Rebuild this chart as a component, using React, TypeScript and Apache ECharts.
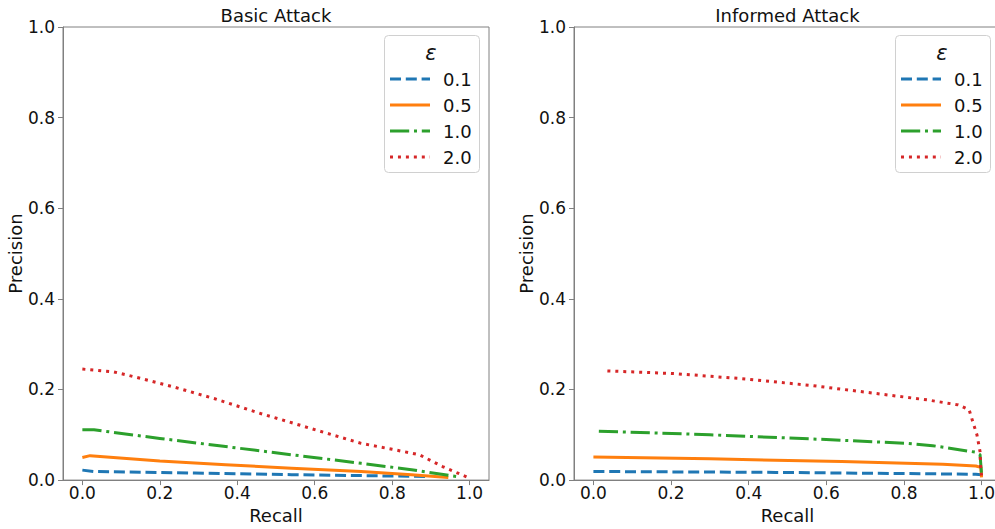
import React, { useEffect, useRef } from "react";
import * as echarts from "echarts";

// ---- Data ----
const titles = ["Basic Attack", "Informed Attack"];
const epsilonLabels = ["0.1", "0.5", "1.0", "2.0"];
const xTicks = [0, 0.2, 0.4, 0.6, 0.8, 1.0];
const yTicks = [0, 0.2, 0.4, 0.6, 0.8, 1.0];

// Basic attack
const basicRecall01 = [0.0, 0.03, 0.29, 0.54, 0.8, 0.89];
const basicPrecision01 = [0.022, 0.019, 0.0155, 0.012, 0.009, 0.008];
const basicRecall05 = [0.0, 0.02, 0.2, 0.37, 0.54, 0.72, 0.85, 0.945];
const basicPrecision05 = [0.05, 0.054, 0.042, 0.034, 0.026, 0.019, 0.012, 0.006];
const basicRecall10 = [0.0, 0.03, 0.2, 0.37, 0.54, 0.72, 0.85, 0.965];
const basicPrecision10 = [0.111, 0.111, 0.092, 0.074, 0.056, 0.037, 0.023, 0.008];
const basicRecall20 = [0.0, 0.05, 0.08, 0.12, 0.23, 0.34, 0.46, 0.59, 0.72, 0.8, 0.87, 0.93, 0.995];
const basicPrecision20 = [0.245, 0.241, 0.239, 0.231, 0.207, 0.18, 0.147, 0.114, 0.081, 0.068, 0.056, 0.03, 0.006];

// Informed attack
const informedRecall01 = [0.0, 0.47, 0.985, 0.999, 1.0];
const informedPrecision01 = [0.019, 0.017, 0.013, 0.012, 0.008];
const informedRecall05 = [0.0, 0.3, 0.64, 0.9, 0.985, 0.998, 1.0];
const informedPrecision05 = [0.051, 0.047, 0.041, 0.035, 0.031, 0.028, 0.006];
const informedRecall10 = [0.014, 0.3, 0.56, 0.81, 0.874, 0.985, 0.996, 1.0];
const informedPrecision10 = [0.108, 0.1, 0.091, 0.081, 0.076, 0.0615, 0.056, 0.012];
const informedRecall20 = [0.036, 0.21, 0.38, 0.56, 0.73, 0.86, 0.94, 0.968, 0.974, 0.988, 0.996, 0.998, 1.0];
const informedPrecision20 = [0.241, 0.235, 0.224, 0.209, 0.191, 0.177, 0.166, 0.155, 0.138, 0.1, 0.063, 0.023, 0.01];

const colors = ["#1f77b4", "#ff7f0e", "#2ca02c", "#d62728"];
const dashes: (number[] | "solid")[] = [[11, 4.8], "solid", [19.2, 4.8, 3, 4.8], [3, 4.95]];

const zip = (xs: number[], ys: number[]) => xs.map((x, i) => [x, ys[i]]);

const FONT = "DejaVu Sans, sans-serif";
const TXT = "#111111";
const FRAME = "#808080";

export default function App() {
  const ref = useRef<HTMLDivElement>(null);

  useEffect(() => {
    if (!ref.current) return;
    const chart = echarts.init(ref.current, undefined, { renderer: "svg" });

    const panels = [
      [
        zip(basicRecall01, basicPrecision01),
        zip(basicRecall05, basicPrecision05),
        zip(basicRecall10, basicPrecision10),
        zip(basicRecall20, basicPrecision20),
      ],
      [
        zip(informedRecall01, informedPrecision01),
        zip(informedRecall05, informedPrecision05),
        zip(informedRecall10, informedPrecision10),
        zip(informedRecall20, informedPrecision20),
      ],
    ];

    const gridLefts = [63, 574];
    const gridWidths = [426, 427];
    const offsets = [0, 511];

    const series: any[] = [];
    panels.forEach((panel, p) => {
      panel.forEach((data, i) => {
        series.push({
          type: "line",
          name: epsilonLabels[i],
          xAxisIndex: p,
          yAxisIndex: p,
          data,
          showSymbol: false,
          symbol: "none",
          z: 2 + i,
          lineStyle: {
            color: colors[i],
            width: 3,
            type: dashes[i],
            cap: "butt",
            join: "round",
          },
        });
      });
    });

    const graphic: any[] = [];
    [0, 1].forEach((p) => {
      const o = offsets[p];
      graphic.push({
        type: "text",
        x: gridLefts[p] + gridWidths[p] / 2,
        y: 15,
        style: {
          text: titles[p],
          fill: TXT,
          font: `18px ${FONT}`,
          align: "center",
          verticalAlign: "middle",
        },
      });
      graphic.push({
        type: "rect",
        shape: { x: 384.5 + o, y: 35.5, width: 95, height: 137, r: 4 },
        style: { fill: "rgba(255,255,255,0.8)", stroke: "#d0d0d0", lineWidth: 1 },
        z: 10,
      });
      graphic.push({
        type: "text",
        x: 431 + o,
        y: 53,
        z: 11,
        style: {
          text: "ε",
          fill: TXT,
          font: `italic 21px ${FONT}`,
          align: "center",
          verticalAlign: "middle",
        },
      });
      const ys = [79, 105, 131, 157];
      epsilonLabels.forEach((lab, i) => {
        const st: any = { stroke: colors[i], lineWidth: 3, lineCap: "butt" };
        if (dashes[i] !== "solid") st.lineDash = dashes[i];
        graphic.push({
          type: "line",
          z: 11,
          shape: { x1: 390 + o, y1: ys[i], x2: 430 + o, y2: ys[i] },
          style: st,
        });
        graphic.push({
          type: "text",
          x: 443 + o,
          y: ys[i],
          z: 11,
          style: {
            text: lab,
            fill: TXT,
            font: `18px ${FONT}`,
            align: "left",
            verticalAlign: "middle",
          },
        });
      });
    });

    const option: any = {
      animation: false,
      backgroundColor: "#ffffff",
      grid: [0, 1].map((p) => ({
        left: gridLefts[p],
        top: 27,
        width: gridWidths[p],
        height: 455,
        show: true,
        borderColor: FRAME,
        borderWidth: 1,
        backgroundColor: "transparent",
        containLabel: false,
      })),
      xAxis: [0, 1].map((p) => ({
        type: "value",
        gridIndex: p,
        min: -0.05,
        max: 1.05,
        name: "Recall",
        nameLocation: "middle",
        nameGap: 23,
        nameTextStyle: { fontFamily: FONT, fontSize: 18, color: TXT },
        axisLine: { show: true, onZero: false, lineStyle: { color: FRAME } },
        axisTick: { show: true, length: 5, inside: false, customValues: xTicks, lineStyle: { color: FRAME } },
        axisLabel: {
          customValues: xTicks,
          formatter: (v: number) => v.toFixed(1),
          fontFamily: FONT,
          fontSize: 17,
          color: TXT,
          margin: 4,
        },
        splitLine: { show: false },
      })),
      yAxis: [0, 1].map((p) => ({
        type: "value",
        gridIndex: p,
        min: 0,
        max: 1,
        interval: 0.2,
        name: "Precision",
        nameLocation: "middle",
        nameGap: 37,
        nameTextStyle: { fontFamily: FONT, fontSize: 18, color: TXT },
        axisLine: { show: true, onZero: false, lineStyle: { color: FRAME } },
        axisTick: { show: true, length: 5, inside: false, customValues: yTicks, lineStyle: { color: FRAME } },
        axisLabel: {
          customValues: yTicks,
          formatter: (v: number) => v.toFixed(1),
          fontFamily: FONT,
          fontSize: 17,
          color: TXT,
          margin: 8,
        },
        splitLine: { show: false },
      })),
      series,
      graphic,
    };

    chart.setOption(option);
    return () => chart.dispose();
  }, []);

  return (
    <div
      style={{
        position: "fixed",
        left: 0,
        top: 0,
        width: 995,
        height: 529,
        overflow: "hidden",
        background: "#fff",
      }}
    >
      <div ref={ref} style={{ width: 1010, height: 529 }} />
    </div>
  );
}
